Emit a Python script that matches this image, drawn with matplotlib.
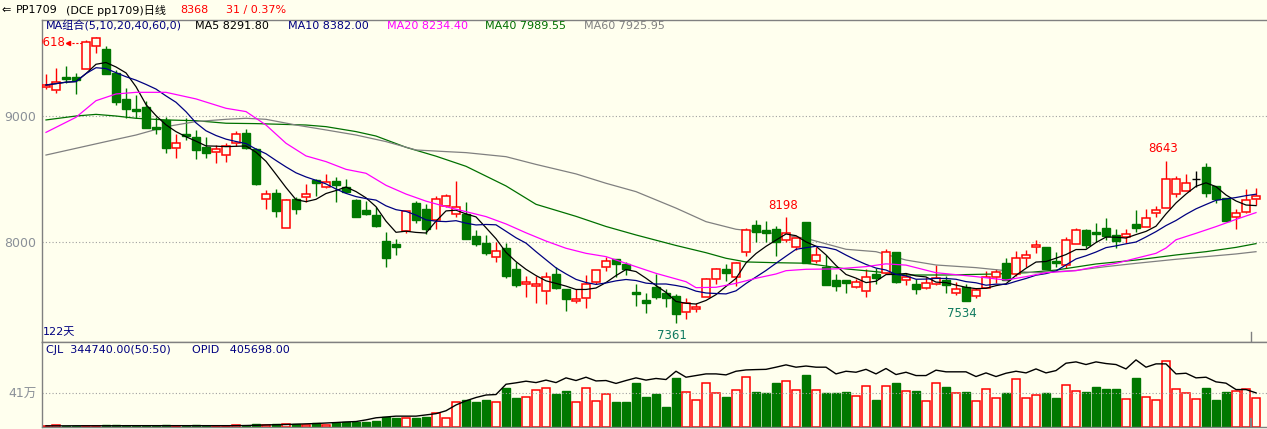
import numpy as np
import pandas as pd
import matplotlib
matplotlib.use("Agg")
import matplotlib.pyplot as plt

plt.rcParams['font.family'] = ['DejaVu Sans', 'Noto Sans CJK SC']

# ---- daily bars PP1709 (122 days) ----
opens = [9224, 9200, 9303, 9303, 9366, 9550, 9526, 9334, 9132, 9053,
         9071, 8913, 8966, 8742, 8853, 8829, 8755, 8710, 8687, 8782,
         8861, 8737, 8339, 8387, 8110, 8339, 8360, 8492, 8434, 8484,
         8439, 8334, 8255, 8216, 8010, 7987, 8092, 8308, 8263, 8179,
         8289, 8221, 8224, 8050, 7998, 7881, 7958, 7789, 7668, 7658,
         7613, 7750, 7631, 7534, 7558, 7689, 7803, 7866, 7829, 7605,
         7545, 7650, 7603, 7576, 7453, 7476, 7571, 7708, 7789, 7724,
         7926, 8137, 8097, 8105, 8018, 7966, 8160, 7855, 7808, 7703,
         7703, 7650, 7618, 7750, 7755, 7921, 7702, 7671, 7637, 7668,
         7702, 7597, 7650, 7576, 7637, 7729, 7834, 7750, 7879, 7966,
         7960, 7852, 7821, 7984, 8097, 8079, 8110, 8058, 8039, 8142,
         8124, 8229, 8274, 8379, 8405, 8497, 8592, 8445, 8347, 8203,
         8237, 8339]
highs = [9329, 9374, 9392, 9340, 9597, 9618, 9550, 9361, 9216, 9163,
         9118, 8987, 8987, 8853, 8979, 8887, 8829, 8768, 8787, 8882,
         8895, 8742, 8413, 8418, 8339, 8355, 8461, 8500, 8537, 8518,
         8497, 8339, 8329, 8281, 8081, 8024, 8250, 8324, 8300, 8366,
         8379, 8487, 8316, 8097, 8058, 8005, 7992, 7847, 7734, 7734,
         7768, 7803, 7631, 7629, 7739, 7781, 7887, 7866, 7847, 7671,
         7597, 7747, 7629, 7592, 7558, 7524, 7716, 7795, 7829, 7847,
         8110, 8176, 8168, 8129, 8198, 8031, 8160, 7966, 7900, 7747,
         7703, 7710, 7787, 7795, 7947, 7921, 7760, 7708, 7729, 7821,
         7737, 7689, 7671, 7637, 7776, 7787, 7874, 7934, 7939, 8018,
         7960, 7926, 8039, 8110, 8103, 8150, 8189, 8102, 8102, 8255,
         8260, 8287, 8643, 8524, 8537, 8566, 8629, 8445, 8347, 8260,
         8418, 8426]
lows = [9208, 9182, 9255, 9168, 9366, 9497, 9325, 9084, 8979, 8979,
        8900, 8855, 8708, 8663, 8808, 8655, 8668, 8624, 8632, 8760,
        8735, 8453, 8263, 8203, 8110, 8224, 8321, 8368, 8430, 8321,
        8395, 8197, 8216, 8124, 7808, 7902, 8071, 8150, 8063, 8105,
        8276, 8203, 8029, 7974, 7900, 7847, 7716, 7650, 7566, 7524,
        7510, 7634, 7460, 7518, 7484, 7671, 7776, 7724, 7742, 7497,
        7445, 7550, 7492, 7361, 7397, 7453, 7571, 7668, 7697, 7655,
        7892, 8005, 8005, 7892, 8005, 7939, 7834, 7839, 7663, 7618,
        7597, 7637, 7571, 7671, 7750, 7676, 7663, 7589, 7629, 7663,
        7597, 7584, 7534, 7558, 7637, 7681, 7703, 7737, 7803, 7913,
        7789, 7803, 7800, 7984, 7952, 8005, 8018, 7952, 7997, 8084,
        8124, 8197, 8274, 8360, 8405, 8439, 8360, 8308, 8168, 8102,
        8229, 8295]
closes = [9242, 9263, 9287, 9284, 9584, 9610, 9332, 9111, 9050, 9039,
          8905, 8895, 8747, 8782, 8839, 8729, 8708, 8737, 8763, 8853,
          8742, 8460, 8379, 8250, 8331, 8263, 8382, 8471, 8479, 8450,
          8400, 8203, 8224, 8129, 7879, 7960, 8247, 8176, 8105, 8345,
          8366, 8276, 8029, 7987, 7918, 7932, 7737, 7663, 7684, 7671,
          7724, 7637, 7555, 7552, 7671, 7781, 7853, 7829, 7792, 7590,
          7518, 7566, 7558, 7434, 7518, 7487, 7708, 7787, 7760, 7834,
          8097, 8079, 8071, 8005, 8076, 8031, 7834, 7900, 7663, 7658,
          7676, 7689, 7724, 7716, 7921, 7684, 7724, 7629, 7676, 7716,
          7663, 7629, 7539, 7624, 7729, 7768, 7703, 7874, 7900, 7976,
          7789, 7834, 8018, 8097, 7979, 8063, 8050, 8013, 8063, 8116,
          8189, 8255, 8497, 8497, 8466, 8497, 8392, 8345, 8168, 8230,
          8337, 8368]

# volume (CJL) and open interest (OPID), in 万
volume = [1.2, 2.4, 1.2, 1.2, 1.2, 1.2, 2.4, 2.4, 1.2, 0.6,
          0.6, 0.6, 2.4, 0.6, 0.6, 2.4, 0.6, 0.6, 0.6, 2.4,
          1.0, 3.6, 2.0, 3.2, 3.2, 3.2, 2.4, 4.4, 2.4, 4.4,
          5.2, 6.0, 6.0, 7.2, 11.3, 10.0, 10.5, 10.5, 12.0, 16.5,
          10.5, 29, 32, 29, 32, 30, 46, 34, 36, 44,
          47, 39, 43, 30, 47, 31, 39, 29, 29, 52,
          36, 39, 23, 59, 42, 32, 52, 40, 36, 44.6,
          60, 42, 41, 52, 55, 44.6, 62.7, 44.6, 40, 40,
          42, 37, 49, 32.5, 49, 52, 43, 43.4, 31, 53,
          48, 41, 42, 31, 45, 34.6, 40, 57.5, 34.6, 38.6,
          40, 35, 50.6, 43, 42, 48, 45.8, 45.8, 33.4, 58,
          35.8, 32, 79, 45.4, 40, 33.4, 47, 31.4, 42, 43,
          45.4, 34.5]
open_interest = [0.8, 0.8, 0.8, 0.9, 0.9, 0.9, 0.9, 0.9, 1.0, 1.0,
                 1.0, 1.0, 1.0, 1.0, 1.0, 1.0, 1.0, 1.0, 1.0, 1.0,
                 1.2, 1.5, 1.9, 2.2, 2.4, 2.8, 3.2, 3.6, 4.2, 4.8,
                 5.5, 6.0, 8.0, 10.5, 11.5, 12.5, 12.5, 12.5, 14, 15.5,
                 19, 26, 31, 35, 38, 38.6, 51, 52.7, 54.7, 53,
                 56, 53, 58.7, 55.5, 59.5, 55, 55.5, 52, 55.5, 58.7,
                 56, 58, 56.7, 66.7, 59.5, 61.5, 63.5, 63.5, 62.3, 66.7,
                 68.3, 68.7, 69, 71.6, 74.4, 71.6, 73, 71.6, 71.6, 63.5,
                 66.7, 65.5, 69, 63.5, 70, 62.7, 65.5, 61.5, 61.5, 68,
                 66, 66, 66, 60.3, 64.7, 60.3, 64.3, 66.7, 64.7, 69.5,
                 64.7, 67.5, 76.4, 78, 74.8, 78, 76, 74.8, 69.5, 80.4,
                 71.6, 75.6, 75.6, 63.5, 64.3, 58.7, 59.5, 53.9, 52.3, 44.6,
                 44.6, 40.6]

# longer moving averages (day index, value)
ma20_idx = [0, 3, 5, 7, 9, 12, 15, 18, 20, 22, 24, 26, 28, 30, 32, 34, 36, 38, 40,
            42, 44, 46, 48, 50, 52, 54, 56, 58, 61, 64, 65, 67, 69, 71, 73, 74, 76,
            79, 82, 84, 86, 89, 93, 96, 98, 100, 103, 105, 107, 109, 111, 112, 113,
            115, 117, 119, 121]
ma20_val = [8868, 8987, 9118, 9171, 9184, 9184, 9132, 9058, 9032, 8926, 8782, 8682,
            8637, 8576, 8545, 8450, 8381, 8325, 8281, 8242, 8203, 8145, 8075, 8010,
            7953, 7913, 7887, 7834, 7755, 7689, 7642, 7645, 7676, 7716, 7750, 7776,
            7787, 7790, 7808, 7830, 7820, 7760, 7729, 7702, 7729, 7760, 7776, 7808,
            7834, 7874, 7913, 7955, 8020, 8071, 8124, 8181, 8234.4]
ma40_idx = [0, 3, 5, 7, 9, 12, 15, 18, 21, 26, 28, 31, 33, 36, 39, 42, 46, 49, 53,
            56, 59, 63, 66, 68, 70, 73, 76, 80, 83, 86, 90, 95, 98, 101, 105, 109,
            113, 116, 119, 121]
ma40_val = [8966, 8997, 9010, 8997, 8979, 8966, 8960, 8940, 8937, 8926, 8913, 8874,
            8839, 8750, 8680, 8600, 8445, 8300, 8205, 8125, 8058, 7975, 7918, 7874,
            7845, 7839, 7835, 7790, 7768, 7742, 7742, 7750, 7760, 7781, 7829, 7860,
            7900, 7926, 7960, 7989.55]
ma60_idx = [0, 3, 6, 9, 12, 15, 18, 20, 22, 25, 28, 31, 34, 37, 40, 42, 46, 49, 53,
            56, 59, 63, 66, 69, 73, 76, 80, 83, 86, 89, 93, 96, 99, 103, 106, 109,
            113, 116, 119, 121]
ma60_val = [8689, 8742, 8795, 8847, 8913, 8953, 8971, 8979, 8971, 8926, 8887, 8847,
            8795, 8729, 8716, 8708, 8676, 8615, 8540, 8466, 8400, 8270, 8163, 8103,
            8068, 8031, 7945, 7926, 7860, 7821, 7800, 7776, 7760, 7778, 7808, 7834,
            7866, 7887, 7908, 7925.95]

marks_high = {5: 9618, 74: 8198, 112: 8643}
marks_low = {63: 7361, 92: 7534}

UP = '#ff0000'
DOWN = '#007800'
BG = '#ffffee'
GRAY = '#808080'

df = pd.DataFrame({'open': opens, 'high': highs, 'low': lows, 'close': closes,
                   'vol': volume, 'oi': open_interest})
x = np.arange(len(df))
ma5 = df['close'].rolling(5, min_periods=1).mean()
ma10 = df['close'].rolling(10, min_periods=1).mean()

W, H = 1267, 429
fig = plt.figure(figsize=(W / 100, H / 100), dpi=100, facecolor=BG)


def fx(px):
    return px / W


def fy(py):
    return 1 - py / H


ax = fig.add_axes([fx(42), fy(342), 1 - fx(42), fy(20) - fy(342)], facecolor=BG)
axv = fig.add_axes([fx(42), fy(427), 1 - fx(42), fy(342) - fy(427)], facecolor=BG, sharex=ax)

# candles
for i, r in df.iterrows():
    o, h, l, c = r['open'], r['high'], r['low'], r['close']
    if c == o:
        ax.vlines(i, l, h, color='black', lw=1)
        ax.hlines(c, i - 0.38, i + 0.38, color='black', lw=1)
        continue
    if c > o:
        ax.vlines(i, c, h, color=UP, lw=1)
        ax.vlines(i, l, o, color=UP, lw=1)
        ax.bar(i, c - o, bottom=o, width=0.72, facecolor=BG, edgecolor=UP, lw=1.1, zorder=3)
    else:
        ax.vlines(i, l, h, color=DOWN, lw=1)
        ax.bar(i, o - c, bottom=c, width=0.72, facecolor=DOWN, edgecolor=DOWN, lw=1, zorder=3)

ax.plot(x, ma5, color='black', lw=0.9, zorder=4)
ax.plot(x, ma10, color='#000080', lw=0.9, zorder=4)
ax.plot(ma20_idx, ma20_val, color='#ff00ff', lw=0.9, zorder=4)
ax.plot(ma40_idx, ma40_val, color='#007000', lw=0.9, zorder=2)
ax.plot(ma60_idx, ma60_val, color=GRAY, lw=0.9, zorder=2)

for i, v in marks_high.items():
    if i == 5:
        continue
    ax.annotate(str(v), (i, v), xytext=(-3, 12), textcoords='offset pixels',
                ha='center', va='center', color=UP, fontsize=8.5)
for i, v in marks_low.items():
    ax.annotate(str(v), (i, v), xytext=(-4, -12), textcoords='offset pixels',
                ha='center', va='center', color='#107a60', fontsize=8.5)

# max price pointer at the left edge
hv = marks_high[5]
ax.plot([2.2, 3.6], [hv - 42, hv - 42], color=UP, lw=0.8, ls=(0, (2, 1.5)))
ax.plot([2.2], [hv - 42], marker='<', ms=3, color=UP)
ax.text(1.9, hv - 42, str(hv), ha='right', va='center', color=UP, fontsize=8.5, clip_on=True)

ax.text(0.001, 0.03, '122天', transform=ax.transAxes, color='#000080', fontsize=8, va='center')
ax.axvline(120.5, ymin=0, ymax=0.03, color=GRAY, lw=1)

ax.set_xlim(-0.4, 122.1)
ax.set_ylim(7213, 9755)
ax.set_yticks([8000, 9000])
ax.grid(axis='y', color='#a0a0a0', ls=(0, (1, 2)), lw=0.8)
ax.tick_params(axis='y', length=0, pad=4, labelsize=9, labelcolor='#8a9098')
ax.tick_params(axis='x', length=0, labelbottom=False)

# volume + open interest
vcol = [UP if c >= o else DOWN for o, c in zip(opens, closes)]
for i in x:
    if vcol[i] == UP:
        axv.bar(i, volume[i], width=0.82, facecolor=BG, edgecolor=UP, lw=1.1)
    else:
        axv.bar(i, volume[i], width=0.82, facecolor=DOWN, edgecolor=DOWN, lw=1)
axv.plot(x, df['oi'], color='black', lw=1)
axv.set_ylim(-0.6, 102)
axv.set_yticks([41])
axv.set_yticklabels(['41万'])
axv.grid(axis='y', color='#a0a0a0', ls=(0, (1, 2)), lw=0.8)
axv.tick_params(axis='y', length=0, pad=4, labelsize=9, labelcolor='#8a9098')
axv.tick_params(axis='x', length=0, labelbottom=False)
axv.axvline(120.5, ymin=0, ymax=0.1, color=GRAY, lw=1.5)

for a in (ax, axv):
    for s in a.spines.values():
        s.set_color(GRAY)
        s.set_linewidth(1)
    a.spines['right'].set_visible(False)

# header texts
fig.text(fx(1), fy(10), '⇐', fontsize=8, va='center')
fig.text(fx(16), fy(10), 'PP1709', fontsize=8, va='center', color='black')
fig.text(fx(66), fy(10), '(DCE pp1709)日线', fontsize=8, va='center', color='black')
fig.text(fx(180), fy(10), '8368', fontsize=8, va='center', color=UP)
fig.text(fx(226), fy(10), '31 / 0.37%', fontsize=8, va='center', color=UP)

fig.text(fx(46), fy(26), 'MA组合(5,10,20,40,60,0)', fontsize=8, va='center', color='#000080')
fig.text(fx(195), fy(26), 'MA5 8291.80', fontsize=8, va='center', color='black')
fig.text(fx(288), fy(26), 'MA10 8382.00', fontsize=8, va='center', color='#000080')
fig.text(fx(387), fy(26), 'MA20 8234.40', fontsize=8, va='center', color='#ff00ff')
fig.text(fx(485), fy(26), 'MA40 7989.55', fontsize=8, va='center', color='#007000')
fig.text(fx(584), fy(26), 'MA60 7925.95', fontsize=8, va='center', color=GRAY)

fig.text(fx(46), fy(350), 'CJL  344740.00(50:50)', fontsize=8, va='center', color='#000080')
fig.text(fx(192), fy(350), 'OPID   405698.00', fontsize=8, va='center', color='#000080')

fig.savefig('out.png', dpi=100, facecolor=BG)
